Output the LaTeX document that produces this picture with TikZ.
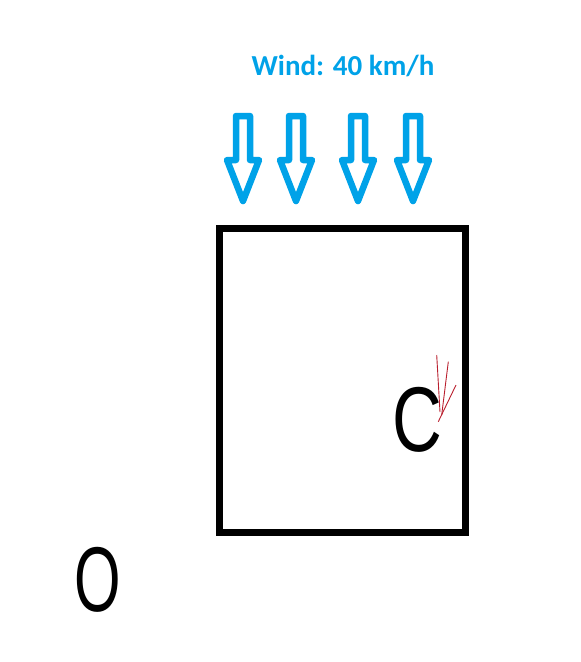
\documentclass[tikz,border=0pt]{standalone}
\usepackage{fontspec}
\setmainfont{Liberation Sans}
\newfontfamily\windfont{Carlito}
\definecolor{windblue}{RGB}{0,162,232}
\definecolor{forcered}{RGB}{185,30,45}
\begin{document}
\begin{tikzpicture}[x=1pt,y=-1pt,
  windarrow/.style={draw=windblue,line width=6.5pt,line join=round,fill=none},
  boxline/.style={draw=black,line width=7pt},
  redline/.style={draw=forcered,line width=0.9pt},
  letter/.style={inner sep=0pt,font=\fontsize{92}{92}\selectfont}]
\useasboundingbox (0,0) rectangle (581,662);
% wind label
\node[text=windblue,font=\windfont\bfseries\fontsize{29}{32}\selectfont] (wind) at (343,66) {Wind: 40 km/h};
% wind arrows
\foreach \cx in {243,296,358,413}{
  \draw[windarrow] (\cx-7,116) -- (\cx+7,116) -- (\cx+7,160) -- (\cx+16,160) -- (\cx,201) -- (\cx-16,160) -- (\cx-7,160) -- cycle;
}
% box
\draw[boxline] (219.5,228.5) rectangle (465.5,532.5);
% letters
\node[letter,xscale=0.75] (C) at (417,420) {C};
\node[letter,xscale=0.65] (O) at (97.5,580) {O};
% red lines
\coordinate (r1) at (440,412);
\coordinate (r2) at (441.7,415);
\coordinate (r3) at (438.3,421.7);
\draw[redline] (436.7,355) -- (r1);
\draw[redline] (448.3,361.7) -- (r2);
\draw[redline] (456,385) -- (r3);
\end{tikzpicture}
\end{document}
